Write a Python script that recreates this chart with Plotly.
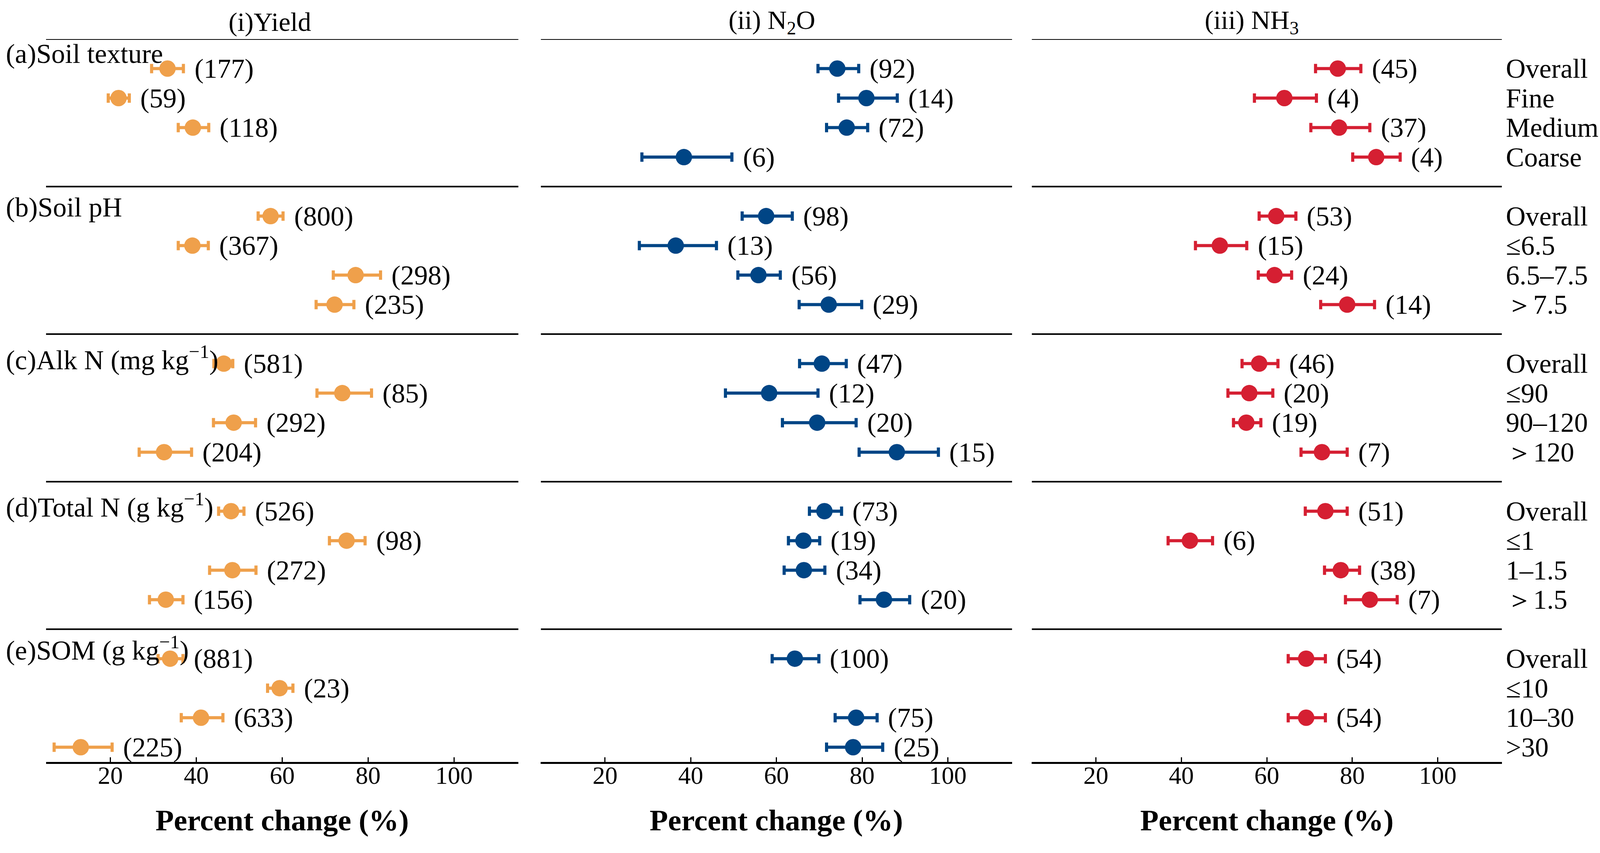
import plotly.graph_objects as go

# ---------------- data ----------------
group_titles = ["(a)Soil texture", "(b)Soil pH", "(c)Alk N (mg kg<sup>−1</sup>)",
                "(d)Total N (g kg<sup>−1</sup>)", "(e)SOM (g kg<sup>−1</sup>)"]
level_labels = ["Overall", "Fine", "Medium", "Coarse",
                "Overall", "≤6.5", "6.5–7.5", "＞7.5",
                "Overall", "≤90", "90–120", "＞120",
                "Overall", "≤1", "1–1.5", "＞1.5",
                "Overall", "≤10", "10–30", ">30"]

panel_titles = ["(i)Yield", "(ii) N<sub>2</sub>O", "(iii) NH<sub>3</sub>"]
tick_values = [20, 40, 60, 80, 100]

yield_mean = [33.3, 21.9, 39.2, None, 57.3, 39.1, 77.1, 72.2, 46.4, 74.0, 48.7, 32.5,
              48.1, 75.0, 48.4, 32.9, 33.9, 59.4, 41.1, 13.1]
yield_lo = [29.6, 19.5, 35.8, None, 54.4, 35.8, 71.9, 67.9, 44.1, 68.1, 44.0, 26.7,
            45.2, 71.0, 43.1, 29.1, 31.1, 56.6, 36.5, 6.9]
yield_hi = [37.0, 24.4, 42.9, None, 60.2, 42.8, 82.9, 76.7, 48.5, 80.8, 53.8, 38.9,
            51.1, 79.3, 53.9, 36.9, 36.9, 62.5, 46.2, 20.4]
yield_n = [177, 59, 118, None, 800, 367, 298, 235, 581, 85, 292, 204,
           526, 98, 272, 156, 881, 23, 633, 225]

n2o_mean = [74.2, 81.0, 76.4, 38.4, 57.6, 36.5, 55.8, 72.2, 70.6, 58.3, 69.5, 88.1,
            71.2, 66.3, 66.4, 85.1, 64.3, None, 78.6, 77.9]
n2o_lo = [69.7, 74.5, 71.7, 28.6, 52.0, 28.0, 51.0, 65.3, 65.4, 48.1, 61.4, 79.3,
          67.7, 62.8, 61.8, 79.5, 59.0, None, 73.7, 71.7]
n2o_hi = [79.2, 88.2, 81.3, 49.6, 63.7, 46.0, 60.9, 79.9, 76.3, 69.7, 78.6, 97.8,
          75.2, 70.1, 71.3, 91.1, 69.9, None, 83.5, 84.8]
n2o_n = [92, 14, 72, 6, 98, 13, 56, 29, 47, 12, 20, 15,
         73, 19, 34, 20, 100, None, 75, 25]

nh3_mean = [76.6, 64.1, 76.9, 85.6, 62.2, 49.0, 61.8, 78.8, 58.2, 55.9, 55.2, 72.9,
            73.7, 42.0, 77.3, 84.1, 69.2, None, 69.2, None]
nh3_lo = [71.4, 57.1, 70.3, 80.1, 58.2, 43.3, 58.0, 72.6, 54.2, 50.9, 52.2, 68.0,
          69.0, 36.9, 73.5, 78.4, 65.0, None, 65.0, None]
nh3_hi = [82.0, 71.6, 84.1, 91.2, 66.8, 55.3, 65.8, 85.2, 62.6, 61.4, 58.6, 78.8,
          78.8, 47.3, 81.7, 90.5, 73.7, None, 73.7, None]
nh3_n = [45, 4, 37, 4, 53, 15, 24, 14, 46, 20, 19, 7,
         51, 6, 38, 7, 54, None, 54, None]

# ---------------- style ----------------
FONT = "Liberation Serif"
colors = ["#EFA04B", "#004585", "#D51F32"]
W, H = 4142, 2183
x_domains = [[119 / W, 1342 / W], [1400 / W, 2620 / W], [2671 / W, 3888 / W]]
y_domain = [1 - 1950 / H, 1 - 100 / H]
title_x = [699 / W, 1998 / W, 3240 / W]
group_label_offset = [0.5, 0.7, 0.8, 0.8, 0.65]

n_groups = len(group_titles)
per_group = 4
row_y = [5 * g + r + 1 for g in range(n_groups) for r in range(per_group)]

panels = [
    (yield_mean, yield_lo, yield_hi, yield_n),
    (n2o_mean, n2o_lo, n2o_hi, n2o_n),
    (nh3_mean, nh3_lo, nh3_hi, nh3_n),
]

fig = go.Figure()
annotations = []
shapes = []

for p, (mean, lo, hi, n) in enumerate(panels):
    idx = [i for i, m in enumerate(mean) if m is not None]
    xs = [mean[i] for i in idx]
    ys = [row_y[i] for i in idx]
    ep = [hi[i] - mean[i] for i in idx]
    em = [mean[i] - lo[i] for i in idx]
    ax = "" if p == 0 else str(p + 1)
    fig.add_trace(go.Scatter(
        x=xs, y=ys, mode="markers",
        marker=dict(size=42, color=colors[p]),
        error_x=dict(type="data", symmetric=False, array=ep, arrayminus=em,
                     color=colors[p], thickness=8, width=12),
        xaxis="x" + ax, yaxis="y" + ax, showlegend=False, cliponaxis=False,
    ))
    for i in idx:
        annotations.append(dict(
            x=hi[i], y=row_y[i], xref="x" + ax, yref="y" + ax,
            text="(%d)" % n[i], showarrow=False, xanchor="left", yanchor="middle",
            xshift=26, font=dict(family=FONT, size=70, color="black"),
        ))
    for g in range(n_groups):
        shapes.append(dict(type="line", xref="x" + ax, yref="y" + ax,
                           x0=5, x1=115, y0=5 * g, y1=5 * g,
                           line=dict(color="black", width=4)))
    annotations.append(dict(
        x=title_x[p], y=1 - 56 / H, xref="paper", yref="paper",
        text=panel_titles[p], showarrow=False, xanchor="center", yanchor="middle",
        font=dict(family=FONT, size=68, color="black"),
    ))
    annotations.append(dict(
        x=(x_domains[p][0] + x_domains[p][1]) / 2, y=1 - 2099 / H,
        xref="paper", yref="paper",
        text="<b>Percent change (%)</b>", showarrow=False,
        xanchor="center", yanchor="middle",
        font=dict(family=FONT, size=77, color="black"),
    ))

# group titles (left)
for g, t in enumerate(group_titles):
    annotations.append(dict(
        x=13 / W, y=5 * g + group_label_offset[g], xref="paper", yref="y",
        text=t, showarrow=False, xanchor="left", yanchor="middle",
        font=dict(family=FONT, size=70, color="black"),
    ))

# level labels (right)
for i, lab in enumerate(level_labels):
    annotations.append(dict(
        x=3896 / W, y=row_y[i], xref="paper", yref="y3",
        text=lab, showarrow=False, xanchor="left", yanchor="middle",
        font=dict(family=FONT, size=70, color="black"),
    ))

layout = dict(
    autosize=True,
    margin=dict(l=0, r=0, t=0, b=0, pad=0),
    paper_bgcolor="white", plot_bgcolor="white",
    annotations=annotations, shapes=shapes,
    font=dict(family=FONT, color="black"),
)
for p in range(3):
    ax = "" if p == 0 else str(p + 1)
    layout["xaxis" + ax] = dict(
        domain=x_domains[p], range=[5, 115], tickvals=tick_values,
        ticks="inside", ticklen=12, tickwidth=3, tickcolor="black",
        showline=True, linewidth=5, linecolor="black",
        showgrid=False, zeroline=False,
        tickfont=dict(family=FONT, size=64, color="black"),
        ticklabelstandoff=-26,
        anchor="y" + ax,
    )
    layout["yaxis" + ax] = dict(
        domain=y_domain, range=[24.5, 0], showgrid=False, zeroline=False,
        showline=False, showticklabels=False, ticks="",
        anchor="x" + ax,
    )

fig.update_layout(**layout)
fig.write_html(
    "out.html",
    config={"displayModeBar": False},
    default_width="100vw",
    default_height="100vh",
    post_script="document.body.style.margin='0';document.body.style.overflow='hidden';"
                "document.documentElement.style.overflow='hidden';"
                "Plotly.Plots.resize(document.getElementById('{plot_id}'));",
)
